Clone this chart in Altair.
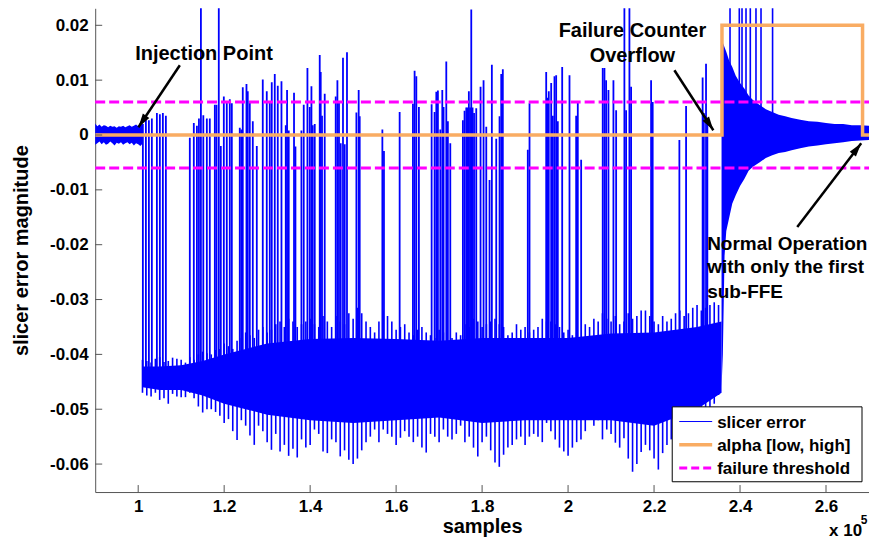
import math
import altair as alt
import pandas as pd

# ---------------- data (x in units of 1e5 samples) ----------------
# pre-injection noise band
pre_x = [0.900, 0.905, 0.910, 0.915, 0.920, 0.925, 0.930, 0.935, 0.940, 0.945, 0.950, 0.955,
         0.960, 0.965, 0.970, 0.975, 0.980, 0.985, 0.990, 0.995, 1.000, 1.005, 1.010]
pre_hi = [0.0021, 0.0016, 0.0019, 0.0015, 0.0018, 0.0017, 0.0014, 0.0017, 0.0015, 0.0016, 0.0013, 0.0016,
          0.0015, 0.0017, 0.0014, 0.0016, 0.0018, 0.0015, 0.0017, 0.0019, 0.0016, 0.0018, 0.0019]
pre_lo = [-0.0018, -0.0015, -0.0012, -0.0017, -0.0013, -0.0018, -0.0016, -0.0012, -0.0015, -0.0019, -0.0014, -0.0016,
          -0.0013, -0.0018, -0.0015, -0.0013, -0.0017, -0.0014, -0.0019, -0.0015, -0.0017, -0.0020, -0.0016]

# dense error band after injection (solid core)
core_x = [1.01, 1.05, 1.10, 1.15, 1.20, 1.25, 1.30, 1.40, 1.50, 1.60, 1.70, 1.80, 1.90, 2.00, 2.10, 2.20, 2.30, 2.357]
core_lo = [-0.0460, -0.0465, -0.0465, -0.0475, -0.0490, -0.0500, -0.0510, -0.0520, -0.0525, -0.0520, -0.0515,
           -0.0525, -0.0520, -0.0520, -0.0520, -0.0530, -0.0500, -0.0470]
core_hi = [-0.0422, -0.0422, -0.0420, -0.0412, -0.0400, -0.0390, -0.0380, -0.0372, -0.0370, -0.0372, -0.0375,
           -0.0370, -0.0370, -0.0370, -0.0362, -0.0360, -0.0350, -0.0340]

# noisy excursions of the band edges
band_x = [1.01, 1.03, 1.05, 1.07, 1.09, 1.11, 1.13, 1.15, 1.17, 1.19, 1.21, 1.23, 1.25, 1.27, 1.29, 1.31,
          1.33, 1.35, 1.37, 1.39, 1.41, 1.43, 1.45, 1.47, 1.49, 1.51, 1.53, 1.55, 1.57, 1.59, 1.61, 1.63,
          1.65, 1.67, 1.69, 1.71, 1.73, 1.75, 1.77, 1.79, 1.81, 1.83, 1.85, 1.87, 1.89, 1.91, 1.93, 1.95,
          1.97, 1.99, 2.01, 2.03, 2.05, 2.07, 2.09, 2.11, 2.13, 2.15, 2.17, 2.19, 2.21, 2.23, 2.25, 2.27,
          2.29, 2.31, 2.33, 2.35]
band_lo = [-0.0470, -0.0477, -0.0483, -0.0490, -0.0477, -0.0478, -0.0480, -0.0506, -0.0500, -0.0512, -0.0518,
           -0.0556, -0.0530, -0.0565, -0.0540, -0.0574, -0.0577, -0.0585, -0.0588, -0.0570, -0.0537, -0.0577,
           -0.0555, -0.0586, -0.0592, -0.0590, -0.0560, -0.0537, -0.0537, -0.0550, -0.0552, -0.0550, -0.0550,
           -0.0579, -0.0550, -0.0537, -0.0555, -0.0530, -0.0550, -0.0586, -0.0550, -0.0597, -0.0583, -0.0565,
           -0.0550, -0.0550, -0.0550, -0.0525, -0.0555, -0.0577, -0.0570, -0.0555, -0.0506, -0.0520, -0.0537,
           -0.0561, -0.0553, -0.0614, -0.0578, -0.0575, -0.0610, -0.0565, -0.0560, -0.0550, -0.0490, -0.0505,
           -0.0500, -0.0474]
band_hi = [-0.0410, -0.0415, -0.0405, -0.0412, -0.0408, -0.0415, -0.0410, -0.0395, -0.0400, -0.0390, -0.0385,
           -0.0375, -0.0360, -0.0370, -0.0350, -0.0355, -0.0340, -0.0335, -0.0350, -0.0340, -0.0345, -0.0330,
           -0.0350, -0.0340, -0.0325, -0.0315, -0.0340, -0.0360, -0.0320, -0.0340, -0.0350, -0.0360, -0.0355,
           -0.0360, -0.0370, -0.0360, -0.0370, -0.0365, -0.0350, -0.0340, -0.0345, -0.0335, -0.0350, -0.0360,
           -0.0355, -0.0360, -0.0350, -0.0340, -0.0345, -0.0360, -0.0365, -0.0370, -0.0350, -0.0340, -0.0335,
           -0.0330, -0.0340, -0.0335, -0.0320, -0.0330, -0.0345, -0.0340, -0.0325, -0.0330, -0.0315, -0.0320,
           -0.0310, -0.0310]
band2_x = [1.02, 1.04, 1.06, 1.08, 1.10, 1.12, 1.14, 1.16, 1.18, 1.20, 1.22, 1.24, 1.26, 1.28, 1.30, 1.32,
           1.34, 1.36, 1.38, 1.40, 1.42, 1.44, 1.46, 1.48, 1.50, 1.52, 1.54, 1.56, 1.58, 1.60, 1.62, 1.64,
           1.66, 1.68, 1.70, 1.72, 1.74, 1.76, 1.78, 1.80, 1.82, 1.84, 1.86, 1.88, 1.90, 1.92, 1.94, 1.96,
           1.98, 2.00, 2.02, 2.04, 2.06, 2.08, 2.10, 2.12, 2.14, 2.16, 2.18, 2.20, 2.22, 2.24, 2.26, 2.28,
           2.30, 2.32, 2.34]
band2_lo = [-0.0475, -0.0470, -0.0480, -0.0472, -0.0478, -0.0470, -0.0495, -0.0500, -0.0505, -0.0525, -0.0540,
            -0.0520, -0.0548, -0.0530, -0.0560, -0.0545, -0.0565, -0.0572, -0.0555, -0.0565, -0.0545, -0.0580,
            -0.0560, -0.0575, -0.0600, -0.0575, -0.0550, -0.0560, -0.0545, -0.0565, -0.0540, -0.0560, -0.0570,
            -0.0545, -0.0560, -0.0550, -0.0545, -0.0560, -0.0570, -0.0560, -0.0575, -0.0605, -0.0570, -0.0555,
            -0.0565, -0.0545, -0.0560, -0.0540, -0.0570, -0.0585, -0.0560, -0.0540, -0.0530, -0.0555, -0.0545,
            -0.0570, -0.0590, -0.0600, -0.0565, -0.0590, -0.0580, -0.0555, -0.0570, -0.0535, -0.0515, -0.0520,
            -0.0490]
band2_hi = [-0.0412, -0.0408, -0.0414, -0.0406, -0.0410, -0.0405, -0.0400, -0.0398, -0.0392, -0.0380, -0.0390,
            -0.0370, -0.0365, -0.0355, -0.0360, -0.0345, -0.0350, -0.0340, -0.0345, -0.0335, -0.0350, -0.0340,
            -0.0330, -0.0345, -0.0335, -0.0325, -0.0350, -0.0340, -0.0330, -0.0355, -0.0345, -0.0365, -0.0350,
            -0.0365, -0.0355, -0.0375, -0.0360, -0.0345, -0.0335, -0.0350, -0.0340, -0.0345, -0.0365, -0.0345,
            -0.0350, -0.0355, -0.0335, -0.0340, -0.0350, -0.0355, -0.0360, -0.0345, -0.0335, -0.0325, -0.0340,
            -0.0345, -0.0325, -0.0330, -0.0320, -0.0340, -0.0330, -0.0335, -0.0320, -0.0325, -0.0310, -0.0315,
            -0.0305]

# upward spikes of the slicer error (from the band up to the peak)
spike_x = [1.0109, 1.0179, 1.0249, 1.0318, 1.0435, 1.0504, 1.0574, 1.0644,
           1.1201, 1.1294, 1.1366, 1.1413, 1.1459, 1.1515, 1.1597, 1.1666, 1.1783, 1.1822, 1.1875, 1.1922,
           1.1992, 1.2061, 1.2131, 1.2178, 1.2363, 1.2398, 1.2433, 1.2519, 1.2549, 1.2596, 1.2666, 1.2759,
           1.2898, 1.2991, 1.3061, 1.3107, 1.3177, 1.3247, 1.3333, 1.3433, 1.3463, 1.3502, 1.3625, 1.3658,
           1.3797, 1.3851, 1.3937, 1.3991, 1.4030, 1.4060, 1.4107, 1.4223, 1.4246, 1.4276, 1.4339, 1.4595,
           1.4634, 1.4671, 1.4711, 1.4764, 1.4804, 1.4857, 1.5076, 1.5129, 1.5153, 1.5680, 1.5717, 1.6082,
           1.6391, 1.6430, 1.6470, 1.6530, 1.6826, 1.6895, 1.6935, 1.6972, 1.7028, 1.7074, 1.7104, 1.7167,
           1.7204, 1.7260, 1.7553, 1.7592, 1.7632, 1.7662, 1.7692, 1.7720, 1.7748, 1.7778, 1.7813, 1.7864,
           1.7964, 1.8034, 1.8097, 1.8173, 1.8227, 1.8329, 1.8406, 1.8445, 1.8482, 1.9063, 1.9103, 1.9491,
           1.9528, 1.9551, 1.9607, 1.9645, 1.9684, 1.9723, 1.9761, 1.9863, 2.0033, 2.0188, 2.0226, 2.0304,
           2.0806, 2.0846, 2.0885, 2.0939, 2.1055, 2.1118, 2.1310, 2.1350, 2.1427, 2.1466, 2.1931, 2.1968,
           2.2589, 2.2745, 2.3130, 2.3158, 2.3209, 2.3240]
spike_top = [0.0020, 0.0036, 0.0027, 0.0030, 0.0040, 0.0038, 0.0040, 0.0035,
             -0.0005, 0.0022, 0.0017, 0.0030, 0.0240, 0.0036, 0.0030, 0.0030, 0.0055, 0.0055, 0.0240, -0.0020,
             0.0070, 0.0060, 0.0065, 0.0058, 0.0013, 0.0010, 0.0087, 0.0093, 0.0080, 0.0062, 0.0025, -0.0020,
             0.0101, 0.0080, 0.0060, 0.0096, 0.0111, 0.0090, 0.0098, 0.0018, 0.0082, 0.0008, 0.0077, -0.0021,
             0.0008, 0.0055, 0.0122, 0.0051, 0.0089, 0.0018, 0.0020, 0.0146, 0.0115, 0.0035, 0.0075, 0.0070,
             0.0100, 0.0060, -0.0015, 0.0141, -0.0017, 0.0151, 0.0041, 0.0082, 0.0034, 0.0010, -0.0029, 0.0042,
             0.0057, 0.0117, 0.0107, 0.0051, 0.0056, 0.0042, 0.0079, 0.0081, 0.0010, 0.0082, 0.0051, 0.0134,
             0.0025, -0.0015, 0.0027, 0.0044, 0.0050, 0.0050, 0.0080, 0.0050, 0.0229, 0.0050, 0.0040, 0.0049,
             0.0088, 0.0100, 0.0015, -0.0082, 0.0128, -0.0007, 0.0034, 0.0111, 0.0120, -0.0027, 0.0058, 0.0115,
             0.0068, 0.0080, 0.0095, 0.0035, 0.0107, 0.0109, 0.0025, 0.0124, 0.0109, 0.0035, 0.0060, -0.0045,
             0.0122, 0.0122, 0.0100, 0.0082, 0.0100, 0.0045, 0.0240, 0.0045, 0.0240, 0.0088, 0.0100, 0.0060,
             -0.0009, 0.0053, 0.0105, 0.0040, 0.0130, 0.0030]

# decaying oscillation after the failure-counter overflow
decay_x = [2.357, 2.360, 2.364, 2.368, 2.375, 2.382, 2.39, 2.40, 2.41, 2.42, 2.43, 2.445, 2.46,
           2.475, 2.49, 2.505, 2.52, 2.54, 2.56, 2.58, 2.60, 2.62, 2.64, 2.66, 2.68, 2.70]
decay_hi = [0.0170, 0.0168, 0.0160, 0.0152, 0.0135, 0.0124, 0.0108, 0.0095, 0.0085, 0.0072, 0.0064, 0.0055,
            0.0047, 0.0042, 0.0037, 0.0034, 0.0031, 0.0028, 0.0025, 0.0024, 0.0022, 0.0020, 0.0020, 0.0018,
            0.0018, 0.0017]
decay_lo = [-0.0460, -0.0400, -0.0220, -0.0175, -0.0150, -0.0125, -0.0110, -0.0093, -0.0080, -0.0065, -0.0058,
            -0.0050, -0.0042, -0.0037, -0.0033, -0.0031, -0.0028, -0.0024, -0.0021, -0.0019, -0.0017, -0.0015,
            -0.0013, -0.0011, -0.0010, -0.0009]
decay_spike_x = [2.3767, 2.3983, 2.4046, 2.4139, 2.4239, 2.4371, 2.4488, 2.4757]
decay_spike_top = [0.0240, 0.0240, 0.0240, 0.0240, 0.0240, 0.0240, 0.0240, 0.0240]

# alpha [low, high] step signal
alpha_x = [0.9, 2.358, 2.358, 2.685, 2.685, 2.7]
alpha_y = [0.0, 0.0, 0.02, 0.02, 0.0, 0.0]

# failure threshold
thresholds = [0.006, -0.006]

# axes
x_ticks = [1.0, 1.2, 1.4, 1.6, 1.8, 2.0, 2.2, 2.4, 2.6]
y_ticks = [-0.06, -0.05, -0.04, -0.03, -0.02, -0.01, 0.0, 0.01, 0.02]
X_DOM = [0.9, 2.7]
Y_DOM = [-0.0651, 0.0231]

# annotations
ann_text = ["Injection Point", "Failure Counter", "Overflow",
            "Normal Operation", "with only the first", "sub-FFE"]
ann_x = [1.1531, 2.1497, 2.1497, 2.3235, 2.3235, 2.3235]
ann_y = [0.01362, 0.01787, 0.01331, -0.02098, -0.02522, -0.02978]
ann_align = ["center", "center", "center", "left", "left", "left"]
arrow_x1 = [1.0969, 2.2473, 2.5331]
arrow_y1 = [0.01271, 0.01180, -0.01679]
arrow_x2 = [1.0005, 2.3379, 2.6819]
arrow_y2 = [0.00142, 0.00087, -0.00149]

# ---------------- chart ----------------
W, H = 774.7, 484.3
FONT = "Liberation Sans"
BLUE = "#0000FF"
ORANGE = "#F9AC63"
MAGENTA = "#FF00FF"

xs = alt.Scale(domain=X_DOM, nice=False, zero=False)
ys = alt.Scale(domain=Y_DOM, nice=False, zero=False)

x_axis = alt.Axis(values=x_ticks, format="~g", title="samples", ticks=False,
                  labelPadding=6, titlePadding=3, grid=False)
y_axis = alt.Axis(values=y_ticks, ticks=False, grid=False, labelPadding=7,
                  title="slicer error magnitude", titlePadding=18,
                  labelExpr="datum.value == 0 ? '0' : (datum.value < 0 ? '-' + format(-datum.value, '.2f') : format(datum.value, '.2f'))")


def px(x, y):
    return ((x - X_DOM[0]) / (X_DOM[1] - X_DOM[0]) * W,
            (Y_DOM[1] - y) / (Y_DOM[1] - Y_DOM[0]) * H)


def ax(f):
    return alt.X(f, scale=xs, axis=x_axis)


def ay(f):
    return alt.Y(f, scale=ys, axis=y_axis)


pre_df = pd.DataFrame({"x": pre_x, "lo": pre_lo, "hi": pre_hi})
core_df = pd.DataFrame({"x": core_x, "lo": core_lo, "hi": core_hi})
band_df = pd.DataFrame({"x": band_x + band2_x, "lo": band_lo + band2_lo, "hi": band_hi + band2_hi})
spike_df = pd.DataFrame({"x": spike_x, "top": spike_top})
decay_df = pd.DataFrame({"x": decay_x, "lo": decay_lo, "hi": decay_hi})
dspike_df = pd.DataFrame({"x": decay_spike_x, "top": decay_spike_top})
alpha_df = pd.DataFrame({"x": alpha_x, "y": alpha_y, "o": list(range(len(alpha_x)))})
thr_df = pd.DataFrame({"y": thresholds})

SPIKE_BASE = -0.043

layers = []
layers.append(alt.Chart(core_df).mark_area(color=BLUE, opacity=1).encode(x=ax("x:Q"), y=ay("lo:Q"), y2="hi:Q"))
layers.append(alt.Chart(pre_df).mark_area(color=BLUE, opacity=1).encode(x=ax("x:Q"), y=ay("lo:Q"), y2="hi:Q"))
layers.append(alt.Chart(band_df).mark_rule(color=BLUE, strokeWidth=1.6).encode(x=ax("x:Q"), y=ay("lo:Q"), y2="hi:Q"))
layers.append(alt.Chart(spike_df).transform_calculate(base=str(SPIKE_BASE)).mark_rule(
    color=BLUE, strokeWidth=1.8, clip=True).encode(x=ax("x:Q"), y=ay("base:Q"), y2="top:Q"))
layers.append(alt.Chart(decay_df).mark_area(color=BLUE, opacity=1).encode(x=ax("x:Q"), y=ay("lo:Q"), y2="hi:Q"))
layers.append(alt.Chart(dspike_df).transform_calculate(base="0").mark_rule(
    color=BLUE, strokeWidth=1.6, clip=True).encode(x=ax("x:Q"), y=ay("base:Q"), y2="top:Q"))
layers.append(alt.Chart(alpha_df).mark_line(color=ORANGE, strokeWidth=3.5, clip=True).encode(
    x=ax("x:Q"), y=ay("y:Q"), order="o:Q"))
layers.append(alt.Chart(thr_df).mark_rule(color=MAGENTA, strokeWidth=3, strokeDash=[10, 4]).encode(
    y=ay("y:Q"), x=alt.value(0), x2=alt.value(W)))

# inward ticks
layers.append(alt.Chart(pd.DataFrame({"t": x_ticks})).mark_rule(color="#555555", strokeWidth=1).encode(
    x=ax("t:Q"), y=alt.value(H), y2=alt.value(H - 7)))
layers.append(alt.Chart(pd.DataFrame({"t": y_ticks})).mark_rule(color="#555555", strokeWidth=1).encode(
    y=ay("t:Q"), x=alt.value(0), x2=alt.value(7)))

# annotations
ann_df = pd.DataFrame({"t": ann_text, "x": ann_x, "y": ann_y, "a": ann_align})
ann_size = {"center": 20, "left": 19}
for al in ["center", "left"]:
    layers.append(alt.Chart(ann_df[ann_df.a == al]).mark_text(
        font=FONT, fontWeight="bold", fontSize=ann_size[al], align=al, baseline="alphabetic",
        color="black").encode(x=ax("x:Q"), y=ay("y:Q"), text="t:N"))

angles = []
for x1, y1, x2, y2 in zip(arrow_x1, arrow_y1, arrow_x2, arrow_y2):
    p1, p2 = px(x1, y1), px(x2, y2)
    dx, dy = p2[0] - p1[0], p2[1] - p1[1]
    angles.append(math.degrees(math.atan2(dx, -dy)) % 360)
arr_df = pd.DataFrame({"x1": arrow_x1, "y1": arrow_y1, "x2": arrow_x2, "y2": arrow_y2, "ang": angles})
layers.append(alt.Chart(arr_df).mark_rule(color="black", strokeWidth=2.5).encode(
    x=ax("x1:Q"), y=ay("y1:Q"), x2="x2:Q", y2="y2:Q"))
layers.append(alt.Chart(arr_df).mark_point(
    shape="M0,0L-0.45,1.6L0.45,1.6Z", filled=True, color="black", opacity=1, size=300).encode(
    x=ax("x2:Q"), y=ay("y2:Q"), angle=alt.Angle("ang:Q", scale=None)))

# legend box
one = pd.DataFrame({"a": [0]})
LX0, LX1, LY0, LY1 = 577.7, 767.7, 399, 474
layers.append(alt.Chart(one).mark_rect(fill="white", stroke="black", strokeWidth=1).encode(
    x=alt.value(LX0), x2=alt.value(LX1), y=alt.value(LY0), y2=alt.value(LY1)))
rows = [("slicer error", BLUE, 1, None, 413.7),
        ("alpha [low, high]", ORANGE, 3.5, None, 437.0),
        ("failure threshold", MAGENTA, 3, [8, 4], 460.3)]
for label, col, sw, dash, ry in rows:
    kw = dict(color=col, strokeWidth=sw)
    if dash:
        kw["strokeDash"] = dash
    layers.append(alt.Chart(one).mark_rule(**kw).encode(
        x=alt.value(LX0 + 7), x2=alt.value(LX0 + 40), y=alt.value(ry)))
    layers.append(alt.Chart(one).mark_text(
        font=FONT, fontWeight="bold", fontSize=17, align="left", baseline="middle", color="black",
        text=label).encode(x=alt.value(LX0 + 45), y=alt.value(ry + 1)))

# exponent label
layers.append(alt.Chart(one).mark_text(font=FONT, fontWeight="bold", fontSize=17, align="left",
                                       baseline="alphabetic", color="black", text="x 10").encode(
    x=alt.value(734.7), y=alt.value(528)))
layers.append(alt.Chart(one).mark_text(font=FONT, fontWeight="bold", fontSize=12, align="left",
                                       baseline="alphabetic", color="black", text="5").encode(
    x=alt.value(766.5), y=alt.value(516)))

chart = alt.layer(*layers).properties(
    width=W, height=H,
    autosize=alt.AutoSizeParams(type="none"),
    padding={"left": 87.3, "top": 0, "right": 0, "bottom": 50},
).configure_view(stroke=None).configure_axis(
    labelFont=FONT, labelFontWeight="bold", labelFontSize=17, labelColor="black",
    titleFont=FONT, titleFontWeight="bold", titleFontSize=20, titleColor="black",
    domainColor="#555555", domainWidth=1,
)

chart.save("out.html", embed_options={"renderer": "svg", "actions": False})
